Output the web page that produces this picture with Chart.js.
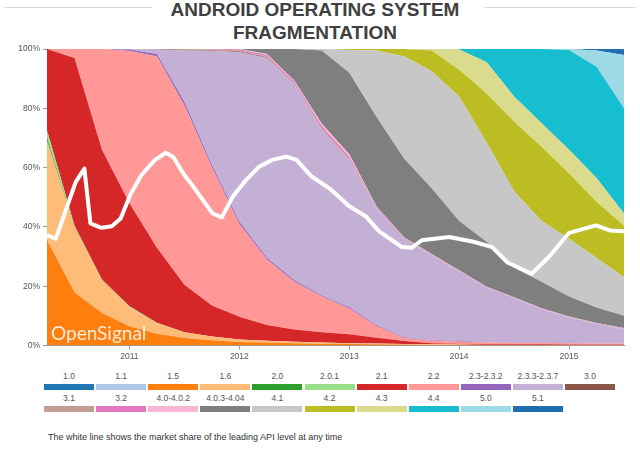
<!DOCTYPE html>
<html>
<head>
<meta charset="utf-8">
<title>Android operating system fragmentation</title>
<script src="https://cdn.jsdelivr.net/npm/chart.js@4.4.0/dist/chart.umd.min.js"></script>
<style>
  body { margin: 0; background: #fff; font-family: "Liberation Sans", Arial, sans-serif; }
  #page { position: relative; width: 640px; height: 454px; overflow: hidden; }
  #chart { position: absolute; left: 0; top: 0; }
  .rule { position: absolute; top: 7px; height: 1px; background: #d6d6d6; }
  #title { position: absolute; left: 0; top: -1px; width: 630px; text-align: center; font-weight: bold;
           font-size: 19px; line-height: 22.5px; color: #404040; }
  .lab { position: absolute; width: 50px; text-align: center; font-size: 8.5px; line-height: 10px; color: #555; }
  .sw { position: absolute; width: 50px; }
  #note { position: absolute; left: 48px; top: 431px; font-size: 9px; line-height: 12px; color: #333; }
</style>
</head>
<body>
<div id="page">
  <div class="rule" style="left:5px;width:147px"></div>
  <div class="rule" style="left:485px;width:150px"></div>
  <div id="title">ANDROID OPERATING SYSTEM<br>FRAGMENTATION</div>
  <canvas id="chart" width="640" height="365"></canvas>
  <div id="legend"></div>
  <div id="note">The white line shows the market share of the leading API level at any time</div>
</div>
<script>
// quarterly samples, April 2010 .. July 2015
var quarters = [2010.25, 2010.5, 2010.75, 2011, 2011.25, 2011.5, 2011.75, 2012, 2012.25, 2012.5, 2012.75,
                2013, 2013.25, 2013.5, 2013.75, 2014, 2014.25, 2014.5, 2014.75, 2015, 2015.25, 2015.5];
var yearTicks = [2011, 2012, 2013, 2014, 2015];

var versions = ["1.0", "1.1", "1.5", "1.6", "2.0", "2.0.1", "2.1", "2.2", "2.3-2.3.2", "2.3.3-2.3.7", "3.0",
                "3.1", "3.2", "4.0-4.0.2", "4.0.3-4.04", "4.1", "4.2", "4.3", "4.4", "5.0", "5.1"];

// share in % per version
var v10  = [0,0,0,0,0,0,0,0,0,0,0,0,0,0,0,0,0,0,0,0,0,0];
var v11  = [0,0,0,0,0,0,0,0,0,0,0,0,0,0,0,0,0,0,0,0,0,0];
var v15  = [35.5, 18, 11, 6.5, 4, 2.5, 1.8, 1.2, 1.0, 0.8, 0.6, 0.5, 0.4, 0.3, 0.2, 0.2, 0.1, 0.1, 0.1, 0.1, 0.1, 0.1];
var v16  = [33.5, 22, 11, 6.5, 3.5, 2, 1.2, 0.8, 0.6, 0.5, 0.4, 0.3, 0.3, 0.2, 0.2, 0.1, 0.1, 0.1, 0.1, 0.1, 0.1, 0.1];
var v20  = [1, 0.3, 0.2, 0.1, 0.1, 0,0,0,0,0,0,0,0,0,0,0,0,0,0,0,0,0];
var v201 = [2.5, 0.2, 0.1, 0.1, 0.1, 0,0,0,0,0,0,0,0,0,0,0,0,0,0,0,0,0];
var v21  = [27.5, 56.5, 43.7, 34.8, 25.3, 16, 10.5, 7.7, 5.3, 4.1, 3.5, 3.0, 1.9, 1.0, 0.4, 0.3, 0.2, 0.2, 0.2, 0.1, 0.1, 0.1];
var v22  = [0, 3, 34, 51.3, 64.5, 60.5, 46.5, 31.3, 22.1, 16.1, 12, 8.7, 3.9, 1.0, 0.8, 0.7, 0.6, 0.5, 0.5, 0.5, 0.4, 0.4];
var v23  = [0, 0, 0, 0.5, 0.8, 1.2, 1, 0.8, 0.6, 0.5, 0.4, 0.4, 0.3, 0.3, 0.2, 0.2, 0.1, 0.1, 0.1, 0.1, 0.1, 0.1];
var v233 = [0, 0, 0, 0.2, 1.5, 17.3, 38.3, 57.2, 67.4, 66, 55.9, 49.6, 39.2, 33.2, 28.7, 23.5, 18.4, 15, 11.3, 8.6, 6.5, 4.8];
var v30  = [0, 0, 0, 0, 0.2, 0.2, 0.2, 0.2, 0.2, 0.1, 0.1, 0.1, 0.1, 0.1, 0, 0, 0, 0, 0, 0, 0, 0];
var v31  = [0, 0, 0, 0, 0, 0.3, 0.3, 0.4, 0.3, 0.3, 0.3, 0.3, 0.2, 0.1, 0.1, 0.1, 0.1, 0.1, 0.1, 0.1, 0.1, 0.1];
var v32  = [0, 0, 0, 0, 0, 0, 0.2, 0.3, 0.5, 0.6, 0.8, 0.8, 0.3, 0.2, 0.2, 0.2, 0.1, 0.1, 0.1, 0.1, 0.1, 0.1];
var v40  = [0, 0, 0, 0, 0, 0, 0, 0.1, 0.3, 0.4, 0.8, 0.8, 0.2, 0.1, 0.1, 0.1, 0.1, 0.1, 0.1, 0.1, 0.1, 0.1];
var v403 = [0, 0, 0, 0, 0, 0, 0, 0, 1.7, 10.6, 24.7, 27.5, 30.2, 26.5, 22.1, 16.6, 15.2, 9.9, 8.9, 6.7, 5.2, 4.1];
var v41  = [0, 0, 0, 0, 0, 0, 0, 0, 0, 0, 0.5, 7.7, 22.5, 34.5, 39.5, 42, 33.5, 25.8, 20.5, 19.5, 16.7, 13];
var v42  = [0, 0, 0, 0, 0, 0, 0, 0, 0, 0, 0, 0.3, 0.5, 2.5, 7, 9, 16.5, 23.5, 25, 22, 19, 17.4];
var v43  = [0, 0, 0, 0, 0, 0, 0, 0, 0, 0, 0, 0, 0, 0, 0.5, 6.8, 10.5, 8.5, 8, 8, 8, 4.1];
var v44  = [0, 0, 0, 0, 0, 0, 0, 0, 0, 0, 0, 0, 0, 0, 0, 0.2, 4.5, 16, 25, 33.7, 37.5, 35.5];
var v50  = [0, 0, 0, 0, 0, 0, 0, 0, 0, 0, 0, 0, 0, 0, 0, 0, 0, 0, 0, 0.3, 5.5, 18];
var v51  = [0, 0, 0, 0, 0, 0, 0, 0, 0, 0, 0, 0, 0, 0, 0, 0, 0, 0, 0, 0, 0.5, 2];

// white line: share of the leading API level
var leadTime  = [2010.25, 2010.33, 2010.51, 2010.59, 2010.645, 2010.745, 2010.84, 2010.92, 2011.01, 2011.11,
                 2011.23, 2011.33, 2011.4, 2011.49, 2011.58, 2011.67, 2011.755, 2011.84, 2011.94, 2012.06,
                 2012.18, 2012.3, 2012.43, 2012.52, 2012.66, 2012.82, 2013.0, 2013.155, 2013.27, 2013.48,
                 2013.57, 2013.66, 2013.91, 2014.13, 2014.3, 2014.44, 2014.66, 2014.82, 2015.0, 2015.245,
                 2015.37, 2015.5];
var leadShare = [37.2, 36, 55, 59.7, 41.2, 39.7, 40.2, 42.8, 51, 57.5,
                 62.5, 65, 63.6, 58, 53.6, 49, 44.6, 43.2, 50.2, 55.8,
                 60.3, 62.6, 63.7, 62.6, 56.9, 53, 47, 43.4, 38.6, 33.2,
                 33, 35.5, 36.6, 35, 33.2, 28, 24.2, 30, 38, 40.5,
                 38.8, 38.5];

var shares = [v10, v11, v15, v16, v20, v201, v21, v22, v23, v233, v30,
              v31, v32, v40, v403, v41, v42, v43, v44, v50, v51];
var colors = ['#1f77b4', '#aec7e8', '#ff7f0e', '#ffbb78', '#2ca02c', '#98df8a', '#d62728', '#ff9896', '#9467bd', '#c5b0d5', '#8c564b',
              '#c49c94', '#e377c2', '#f7b6d2', '#7f7f7f', '#c7c7c7', '#bcbd22', '#dbdb8d', '#17becf', '#9edae5', '#1f6fb0'];

var datasets = versions.map(function (v, i) {
    return {
        label: v,
        data: shares[i],
        backgroundColor: colors[i],
        borderWidth: 0,
        pointRadius: 0,
        fill: i === 0 ? 'origin' : '-1',
        stack: 'share',
        order: 1
    };
});
datasets.push({
    label: 'leading API level',
    data: leadTime.map(function (t, i) { return { x: t, y: leadShare[i] }; }),
    borderColor: '#ffffff',
    borderWidth: 4,
    borderJoinStyle: 'round',
    pointRadius: 0,
    fill: false,
    stack: 'lead',
    order: 0
});

var watermark = {
    id: 'watermark',
    afterDatasetsDraw: function (chart) {
        var c = chart.ctx, a = chart.chartArea;
        c.save();
        c.font = '19px Lato, "Open Sans", sans-serif';
        c.fillStyle = 'rgba(255,255,255,0.85)';
        c.fillText('OpenSignal', a.left + 4, a.bottom - 5.5);
        c.restore();
    }
};

var axisColor = '#9a9a9a';
var tickFont = { family: '"Liberation Sans", Arial, sans-serif', size: 8.5 };

var chart = new Chart(document.getElementById('chart').getContext('2d'), {
    type: 'line',
    data: { labels: quarters, datasets: datasets },
    options: {
        responsive: false,
        animation: false,
        layout: { padding: { top: 49, right: 16, left: 0, bottom: 0 } },
        elements: { line: { tension: 0 } },
        plugins: { legend: { display: false }, title: { display: false }, tooltip: { enabled: false } },
        scales: {
            x: {
                type: 'linear',
                min: 2010.25,
                max: 2015.5,
                afterBuildTicks: function (s) { s.ticks = yearTicks.map(function (v) { return { value: v }; }); },
                afterFit: function (s) { s.height = 19.5; },
                grid: { drawOnChartArea: false, tickLength: 4, color: axisColor },
                border: { color: axisColor },
                ticks: { callback: function (v) { return String(v); }, font: tickFont, color: '#555', padding: 2, maxRotation: 0 }
            },
            y: {
                stacked: true,
                min: 0,
                max: 100,
                afterFit: function (s) { s.width = 47; },
                grid: { drawOnChartArea: false, tickLength: 4, color: axisColor },
                border: { color: axisColor },
                ticks: { stepSize: 20, callback: function (v) { return v + '%'; }, font: tickFont, color: '#555', padding: 3 }
            }
        }
    },
    plugins: [watermark]
});

// legend: label above a colour bar, two rows
var legend = document.getElementById('legend');
versions.forEach(function (v, i) {
    var row = i < 11 ? 0 : 1;
    var col = row === 0 ? i : i - 11;
    var left = 44 + col * 52.1;
    var lab = document.createElement('div');
    lab.className = 'lab';
    lab.textContent = v;
    lab.style.left = left + 'px';
    lab.style.top = (row === 0 ? 371 : 392.7) + 'px';
    var sw = document.createElement('div');
    sw.className = 'sw';
    sw.style.left = left + 'px';
    sw.style.top = (row === 0 ? 383.7 : 405.5) + 'px';
    sw.style.height = '6.3px';
    sw.style.background = colors[i];
    legend.appendChild(lab);
    legend.appendChild(sw);
});
</script>
</body>
</html>
